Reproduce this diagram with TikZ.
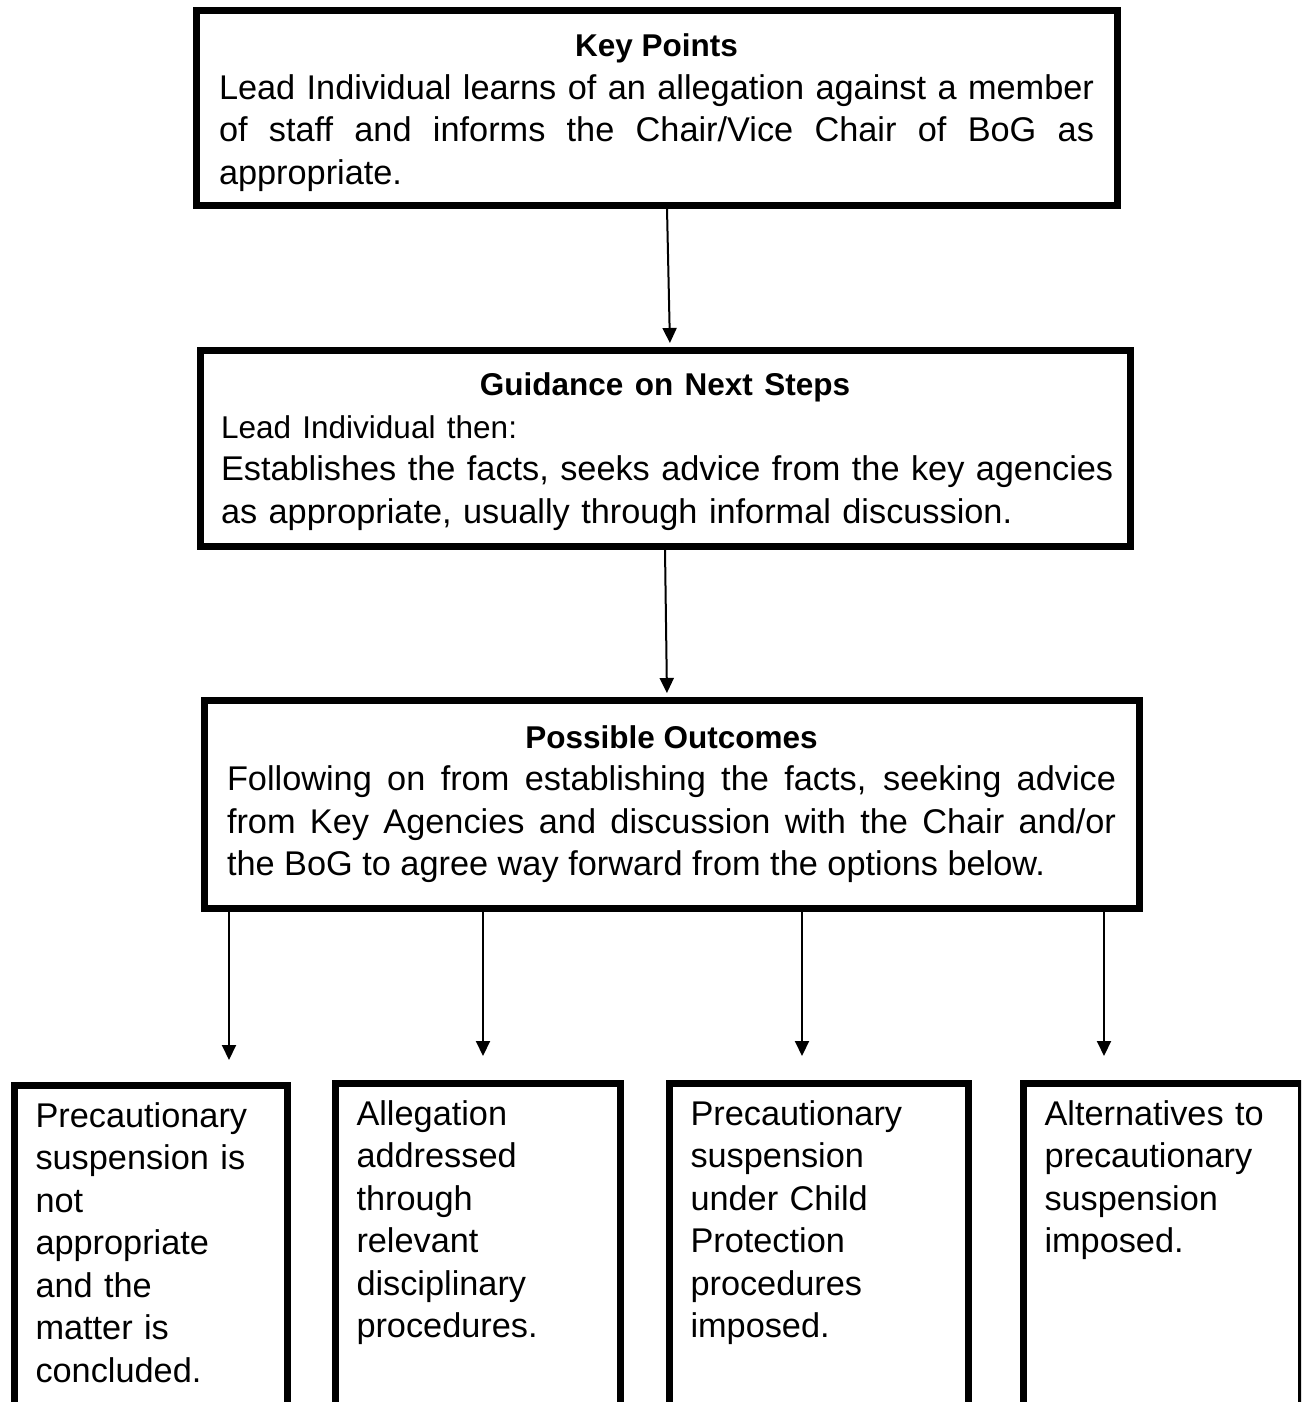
\documentclass[tikz,border=0pt]{standalone}
\usepackage{fontspec}
\setmainfont{Liberation Sans}
\usetikzlibrary{arrows.meta}
\setlength{\parindent}{0pt}
\hyphenpenalty=10000
\exhyphenpenalty=10000
\newcommand{\bodyfont}{\fontsize{34.3}{42.5}\selectfont\hyphenpenalty=10000}
\newcommand{\headfont}{\fontsize{31.5}{42.5}\selectfont\bfseries}

\begin{document}
\begin{tikzpicture}[x=1pt, y=-1pt,
    mainbox/.style={draw, line width=7pt, inner xsep=23pt, inner ysep=4pt, align=justify, font=\bodyfont},
    outbox/.style={draw, line width=7pt, anchor=north west, inner xsep=21pt, inner ysep=17pt, align=left, text depth=420pt, font=\bodyfont},
    arr/.style={line width=2pt, -{Triangle[length=15pt, width=14pt]}}]
    \useasboundingbox (0,0) rectangle (1301,1402);
    \clip (0,0) rectangle (1301,1402);

    % Key points
    \node[mainbox, text width=875pt, minimum height=194pt] (keypts) at (656.5,108) {{\centering\headfont\rule{0pt}{32pt}Key Points\par}Lead Individual learns of an allegation against a member\linebreak of staff and informs the Chair/Vice Chair of BoG as\linebreak appropriate.};

    % Next steps
    \node[mainbox, align=left, inner xsep=21pt, text width=888pt, minimum height=196pt] (guide) at (665,448) {{\centering\headfont\rule{0pt}{30pt}Guidance on Next Steps\par}{\fontsize{31.5}{42.5}\selectfont Lead Individual then:\par}\mbox{Establishes the facts, seeks advice from the key agencies}\\as appropriate, usually through informal discussion.};

    % Outcomes
    \node[mainbox, text width=889pt, minimum height=208pt] (outcome) at (671.5,804) {{\centering\headfont Possible Outcomes\par}Following on from establishing the facts, seeking advice\linebreak from Key Agencies and discussion with the Chair and/or\linebreak the BoG to agree way forward from the options below.};

    % Options
    \node[outbox, text width=231pt] (optA) at (11,1082) {Precautionary\\suspension is\\not\\appropriate\\and the\\matter is\\concluded.};
    \node[outbox, text width=243pt] (optB) at (332,1080) {Allegation\\addressed\\through\\relevant\\disciplinary\\procedures.};
    \node[outbox, text width=257pt] (optC) at (666,1080) {Precautionary\\suspension\\under Child\\Protection\\procedures\\imposed.};
    \node[outbox, text width=235.5pt] (optD) at (1020,1080) {Alternatives to\\precautionary\\suspension\\imposed.};

    \coordinate (tipA) at (229,1060);
    \coordinate (tipB) at (483,1056);
    \coordinate (tipC) at (802,1056);
    \coordinate (tipD) at (1104,1056);

    % Arrows
    \draw[arr, shorten >=3.5pt] ([xshift=10.5pt]keypts.south) -- ([xshift=5pt]guide.north);
    \draw[arr, shorten >=3.5pt] (guide.south) -- ([xshift=-4.5pt]outcome.north);
    \draw[arr] (outcome.south -| tipA) -- (tipA);
    \draw[arr] (outcome.south -| tipB) -- (tipB);
    \draw[arr] (outcome.south -| tipC) -- (tipC);
    \draw[arr] (outcome.south -| tipD) -- (tipD);
\end{tikzpicture}
\end{document}
